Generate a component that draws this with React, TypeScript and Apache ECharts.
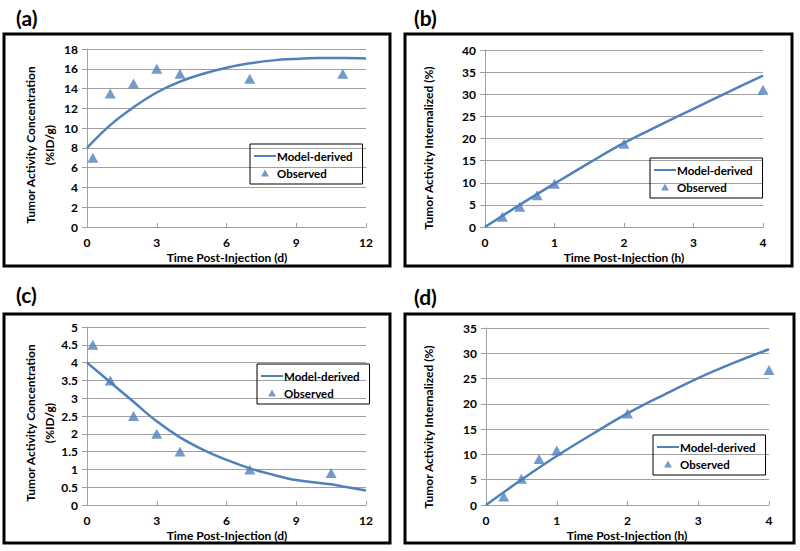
import React, { useEffect, useRef } from 'react';
import * as echarts from 'echarts';

// ---- Data ----
// Panel (a): tumor activity concentration (%ID/g) vs time (d)
const obsTimeA = [0.25, 1, 2, 3, 4, 7, 11];
const obsValA = [7, 13.5, 14.5, 16, 15.5, 15, 15.5];
const modelTimeA = [0, 1, 2, 3, 4, 5, 6, 7, 8, 9, 10, 11, 12];
const modelValA = [8, 10.3, 12.1, 13.6, 14.7, 15.5, 16.1, 16.55, 16.85, 17.0, 17.08, 17.1, 17.05];

// Panel (b): tumor activity internalized (%) vs time (h)
const obsTimeB = [0.25, 0.5, 0.75, 1, 2, 4];
const obsValB = [2.3, 4.6, 7.2, 9.8, 18.8, 31];
const modelTimeB = [0, 0.5, 1, 1.5, 2, 2.5, 3, 3.5, 4];
const modelValB = [0, 5, 9.8, 14.5, 19, 22.9, 26.7, 30.5, 34.2];

// Panel (c): tumor activity concentration (%ID/g) vs time (d)
const obsTimeC = [0.25, 1, 2, 3, 4, 7, 10.5];
const obsValC = [4.5, 3.5, 2.5, 2, 1.5, 1, 0.9];
const modelTimeC = [0, 1, 2, 3, 4, 5, 6, 7, 8, 9, 10, 10.5, 11, 12];
const modelValC = [4, 3.45, 2.9, 2.35, 1.9, 1.55, 1.27, 1.03, 0.85, 0.7, 0.62, 0.58, 0.52, 0.41];

// Panel (d): tumor activity internalized (%) vs time (h)
const obsTimeD = [0.25, 0.5, 0.75, 1, 2, 4];
const obsValD = [1.7, 5.2, 9.1, 10.8, 18.1, 26.7];
const modelTimeD = [0, 0.5, 1, 1.5, 2, 2.5, 3, 3.5, 4];
const modelValD = [0, 5, 9.7, 14, 18.1, 21.7, 25.1, 28.1, 30.8];

const panelLabels = ['(a)', '(b)', '(c)', '(d)'];
const xTitles = ['Time Post-Injection (d)', 'Time Post-Injection (h)', 'Time Post-Injection (d)', 'Time Post-Injection (h)'];
const yTitles = [
  'Tumor Activity Concentration\n(%ID/g)',
  'Tumor Activity Internalized (%)',
  'Tumor Activity Concentration\n(%ID/g)',
  'Tumor Activity Internalized (%)',
];
const xMax = [12, 4, 12, 4];
const xStep = [3, 1, 3, 1];
const yMax = [18, 40, 5, 35];
const yStep = [2, 5, 0.5, 5];

const seriesName = { model: 'Model-derived', obs: 'Observed' };

const zip = (xs: number[], ys: number[]) => xs.map((x, i) => [x, ys[i]]);
const obsData = [zip(obsTimeA, obsValA), zip(obsTimeB, obsValB), zip(obsTimeC, obsValC), zip(obsTimeD, obsValD)];
const modelData = [
  zip(modelTimeA, modelValA),
  zip(modelTimeB, modelValB),
  zip(modelTimeC, modelValC),
  zip(modelTimeD, modelValD),
];

// ---- Layout ----
const FONT = 'Lato';
const BLUE = '#4F81BD';
const GRID_GRAY = '#a0a0a0';

const grids = [
  { left: 87, top: 49, width: 279, height: 178 },
  { left: 485, top: 50, width: 278, height: 177 },
  { left: 87, top: 327, width: 279, height: 178 },
  { left: 486, top: 328, width: 283, height: 177 },
];
const boxes = [
  { x: 4, y: 34, w: 386, h: 232 },
  { x: 405, y: 34, w: 387, h: 232 },
  { x: 4, y: 314, w: 386, h: 229 },
  { x: 405, y: 314, w: 389, h: 229 },
];
const labelPos = [
  { x: 16, y: 17 },
  { x: 414, y: 17 },
  { x: 16, y: 294 },
  { x: 414, y: 296 },
];
const yTitlePos = [
  { x: 40, y: 145 },
  { x: 428, y: 148 },
  { x: 40, y: 423 },
  { x: 428, y: 427 },
];
const xTitlePos = [
  { x: 227, y: 257 },
  { x: 624, y: 257 },
  { x: 227, y: 535 },
  { x: 627, y: 535 },
];
const legendPos = [
  { left: 250, top: 144 },
  { left: 650, top: 158 },
  { left: 257, top: 364 },
  { left: 653, top: 435 },
];

export default function App() {
  const ref = useRef<HTMLDivElement>(null);
  useEffect(() => {
    const chart = echarts.init(ref.current!, null, { renderer: 'svg' });
    const option: any = {
      animation: false,
      backgroundColor: '#fff',
      textStyle: { fontFamily: FONT },
      grid: grids.map((g) => ({ ...g, containLabel: false })),
      xAxis: grids.map((_, i) => ({
        type: 'value',
        gridIndex: i,
        min: 0,
        max: xMax[i],
        interval: xStep[i],
        splitLine: { show: false },
        axisLine: { show: true, lineStyle: { color: GRID_GRAY, width: 1 } },
        axisTick: { show: true, inside: true, length: 4, lineStyle: { color: GRID_GRAY } },
        axisLabel: { color: '#000', fontWeight: 'bold', fontSize: 12, fontFamily: FONT, margin: 9 },
      })),
      yAxis: grids.map((_, i) => ({
        type: 'value',
        gridIndex: i,
        min: 0,
        max: yMax[i],
        interval: yStep[i],
        splitLine: { show: true, lineStyle: { color: GRID_GRAY, width: 1 } },
        axisLine: { show: true, lineStyle: { color: GRID_GRAY, width: 1 } },
        axisTick: { show: true, length: 5, lineStyle: { color: GRID_GRAY } },
        axisLabel: { color: '#000', fontWeight: 'bold', fontSize: 12, fontFamily: FONT, margin: 9 },
      })),
      legend: grids.map((_, i) => ({
        orient: 'vertical',
        left: legendPos[i].left,
        top: legendPos[i].top,
        selectedMode: false,
        borderColor: '#000',
        borderWidth: 1,
        padding: [6, 10, 5, 3],
        itemWidth: 22,
        itemHeight: 7,
        itemGap: 5,
        textStyle: {
          color: '#000',
          fontSize: 11.5,
          fontWeight: 'bold',
          fontFamily: FONT,
          padding: [0, 0, 0, -4],
          width: 68,
          overflow: 'none',
        },
        data: [
          { name: seriesName.model, itemStyle: { color: 'rgba(0,0,0,0)', borderWidth: 0, opacity: 0 } },
          { name: seriesName.obs, icon: 'path://M5,0L10,9L0,9Z' },
        ],
      })),
      series: [
        ...grids.map((_, i) => ({
          type: 'line',
          name: seriesName.model,
          xAxisIndex: i,
          yAxisIndex: i,
          data: modelData[i],
          smooth: 0.4,
          symbol: 'none',
          lineStyle: { color: BLUE, width: 2.5 },
          itemStyle: { color: BLUE },
        })),
        ...grids.map((_, i) => ({
          type: 'scatter',
          name: seriesName.obs,
          xAxisIndex: i,
          yAxisIndex: i,
          data: obsData[i],
          symbol: 'triangle',
          symbolSize: [11, 10],
          itemStyle: { color: BLUE },
        })),
      ],
      graphic: [
        ...boxes.map((b) => ({
          type: 'rect',
          shape: { x: b.x, y: b.y, width: b.w, height: b.h },
          style: { fill: 'none', stroke: '#000', lineWidth: 3 },
          z: 10,
        })),
        ...labelPos.map((p, i) => ({
          type: 'text',
          x: p.x,
          y: p.y,
          style: {
            text: panelLabels[i],
            fontSize: 21,
            fontWeight: 'bold',
            fontFamily: FONT,
            fill: '#000',
            align: 'left',
            verticalAlign: 'middle',
          },
        })),
        ...yTitlePos.map((p, i) => ({
          type: 'text',
          x: p.x,
          y: p.y,
          rotation: Math.PI / 2,
          style: {
            text: yTitles[i],
            fontSize: 12,
            fontWeight: 'bold',
            fontFamily: FONT,
            fill: '#000',
            align: 'center',
            verticalAlign: 'middle',
            lineHeight: 19,
          },
        })),
        ...xTitlePos.map((p, i) => ({
          type: 'text',
          x: p.x,
          y: p.y,
          style: {
            text: xTitles[i],
            fontSize: 12,
            fontWeight: 'bold',
            fontFamily: FONT,
            fill: '#000',
            align: 'center',
            verticalAlign: 'middle',
          },
        })),
      ],
    };
    chart.setOption(option);
    return () => chart.dispose();
  }, []);
  return (
    <div
      ref={ref}
      style={{ position: 'absolute', left: 0, top: 0, width: 800, height: 551, background: '#fff' }}
    />
  );
}
